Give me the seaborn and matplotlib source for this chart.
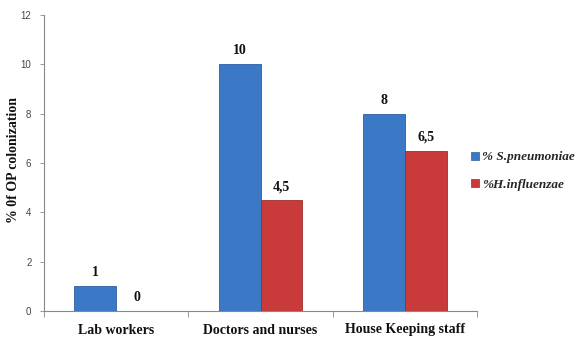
import matplotlib
matplotlib.use("Agg")
import matplotlib.pyplot as plt
import seaborn as sns
import pandas as pd
import numpy as np
from matplotlib.patches import Patch

categories = ["Lab workers", "Doctors and nurses", "House Keeping staff"]
series_names = ["% S.pneumoniae", "%H.influenzae"]
s_pneumoniae = [1, 10, 8]
h_influenzae = [0, 4.5, 6.5]
value_labels = [["1", "10", "8"], ["0", "4,5", "6,5"]]
y_ticks = [0, 2, 4, 6, 8, 10, 12]

colors = ["#3b78c6", "#c93a3a"]
edge_colors = ["#2c5e9e", "#9e2c2c"]

df = pd.DataFrame({
    "category": categories * 2,
    "series": [series_names[0]] * 3 + [series_names[1]] * 3,
    "value": s_pneumoniae + h_influenzae,
})

sns.set_theme(style="white")
plt.rcParams["font.family"] = ["DejaVu Sans"]

fig = plt.figure(figsize=(5.85, 3.38), dpi=100)
ax = fig.add_axes([44 / 585, 1 - 311 / 338, (477 - 44) / 585, (311 - 15) / 338])

sns.barplot(data=df, x="category", y="value", hue="series", order=categories,
            hue_order=series_names, palette=colors, width=0.58, ax=ax,
            legend=False, saturation=1)

# darker outline on each bar
for i, container in enumerate(ax.containers):
    for bar in container:
        bar.set_edgecolor(edge_colors[i])
        bar.set_linewidth(0.6)

serif_bold = dict(family="Liberation Serif", weight="bold")

# value labels above bars
for i, container in enumerate(ax.containers):
    for bar, lab in zip(container, value_labels[i]):
        x = bar.get_x() + bar.get_width() / 2
        ax.annotate(lab, (x, bar.get_height()), xytext=(0, 5),
                    textcoords="offset points", ha="center", va="bottom",
                    fontsize=10, color="#111111", **serif_bold)

ax.set_ylim(0, 12)
ax.set_xlim(-0.5, 2.5)
ax.set_yticks(y_ticks)
ax.set_yticklabels([str(t) for t in y_ticks], family="Liberation Sans",
                   fontsize=7, color="#444444")
ax.tick_params(axis="y", length=3, width=0.6, color="#888888", pad=6,
               left=True, direction="out")

ax.set_xticks(range(3))
ax.set_xticklabels(categories, fontsize=10, color="#111111", **serif_bold)
ax.tick_params(axis="x", length=0, pad=9)
ax.set_xticks([-0.5, 0.5, 1.5, 2.5], minor=True)
ax.tick_params(axis="x", which="minor", length=4, width=0.6, color="#888888",
               bottom=True, direction="out")

ax.set_xlabel("")
ax.set_ylabel("% 0f OP colonization", fontsize=10, color="#111111", **serif_bold)
ax.yaxis.set_label_coords(-24 / 433, 0.51)

for side in ["top", "right"]:
    ax.spines[side].set_visible(False)
for side in ["left", "bottom"]:
    ax.spines[side].set_color("#888888")
    ax.spines[side].set_linewidth(0.8)

handles = [Patch(facecolor=c, edgecolor=e, linewidth=0.5)
           for c, e in zip(colors, edge_colors)]
fig.legend(handles, series_names, loc="center left",
           bbox_to_anchor=(471 / 585, 1 - 171 / 338), frameon=False,
           borderpad=0, borderaxespad=0,
           prop=dict(family="Liberation Serif", weight="bold", style="italic", size=9.5),
           handlelength=0.6, handleheight=0.6, handletextpad=0.25,
           labelspacing=1.15)

fig.savefig("out.png", dpi=100)
